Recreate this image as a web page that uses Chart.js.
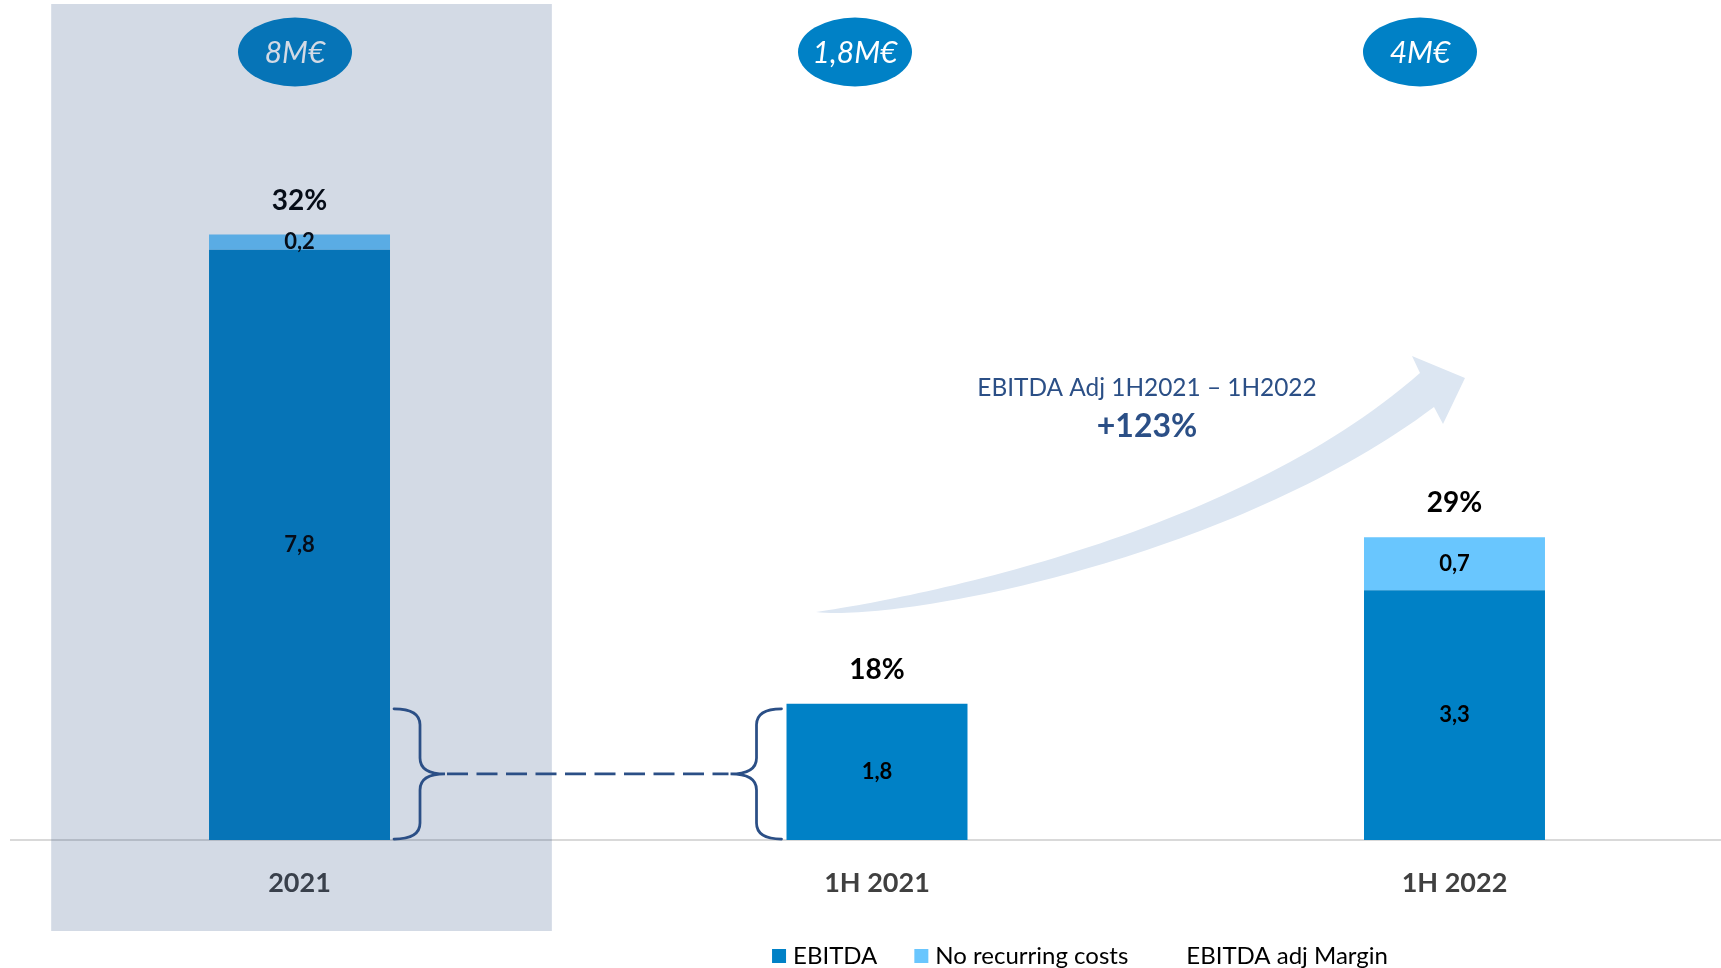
<!DOCTYPE html>
<html lang="es">
<head>
<meta charset="UTF-8">
<title>EBITDA</title>
<script src="https://cdn.jsdelivr.net/npm/chart.js@4.4.1/dist/chart.umd.min.js"></script>
<style>
  html, body { margin: 0; padding: 0; background: #ffffff; overflow: hidden; }
  #contenedor { width: 1721px; height: 968px; position: relative; }
</style>
</head>
<body>
<div id="contenedor"><canvas id="grafico"></canvas></div>
<script>
// Datos del gráfico (millones de euros)
const categorias = ['2021', '1H 2021', '1H 2022'];
const ebitda = [7.8, 1.8, 3.3];
const costesNoRecurrentes = [0.2, 0, 0.7];
const margenAjustado = [32, 18, 29];   // EBITDA adj Margin (%)
const tituloCrecimiento = 'EBITDA Adj 1H2021 – 1H2022';
const crecimiento = '+123%';

// Estilos
const FUENTE = 'Lato, "Open Sans", sans-serif';
const AZUL = '#0081c6';
const CELESTE = '#69c6fe';
const AZUL_OSCURO = '#2b4f86';
const desplazamientoBurbuja = [-4.5, -22, -34.5];  // px respecto al centro de la barra

function formatoNumero(v) {
    return v.toFixed(1).replace('.', ',');
}

function formatoTotal(v) {
    return (Math.round(v * 10) / 10).toString().replace('.', ',') + 'M€';
}

// Dibuja una llave "}" o "{" entre dos alturas
function dibujarLlave(ctx, xBorde, xVertical, xPunta, yArriba, yAbajo) {
    const yMedio = (yArriba + yAbajo) / 2;
    const r = 16;
    ctx.beginPath();
    ctx.moveTo(xBorde, yArriba);
    ctx.quadraticCurveTo(xVertical, yArriba, xVertical, yArriba + r);
    ctx.lineTo(xVertical, yMedio - r);
    ctx.quadraticCurveTo(xVertical, yMedio, xPunta, yMedio);
    ctx.quadraticCurveTo(xVertical, yMedio, xVertical, yMedio + r);
    ctx.lineTo(xVertical, yAbajo - r);
    ctx.quadraticCurveTo(xVertical, yAbajo, xBorde, yAbajo);
    ctx.stroke();
}

// Flecha curva de crecimiento
function dibujarFlecha(ctx) {
    ctx.save();
    ctx.fillStyle = '#dce6f2';
    ctx.beginPath();
    ctx.moveTo(816, 612);
    ctx.bezierCurveTo(900, 600, 1230, 540, 1420, 373);
    ctx.lineTo(1412, 356);
    ctx.lineTo(1465, 378);
    ctx.lineTo(1443, 424);
    ctx.lineTo(1434, 407);
    ctx.bezierCurveTo(1230, 560, 900, 622, 816, 612);
    ctx.closePath();
    ctx.fill();
    ctx.restore();
}

const decoraciones = {
    id: 'decoraciones',
    beforeDraw(chart) {
        const ctx = chart.ctx;
        ctx.save();
        ctx.fillStyle = '#ffffff';
        ctx.fillRect(0, 0, chart.width, chart.height);
        ctx.restore();
    },
    afterDatasetsDraw(chart) {
        const ctx = chart.ctx;
        const x = chart.scales.x;
        const y = chart.scales.y;
        const barrasEbitda = chart.getDatasetMeta(0).data;
        const barrasCostes = chart.getDatasetMeta(1).data;

        dibujarFlecha(ctx);

        ctx.save();
        ctx.textAlign = 'center';
        ctx.textBaseline = 'middle';

        // Etiquetas de cada segmento
        ctx.fillStyle = '#000000';
        ctx.font = 'bold 22px ' + FUENTE;
        [barrasEbitda, barrasCostes].forEach((barras, d) => {
            const valores = d === 0 ? ebitda : costesNoRecurrentes;
            barras.forEach((barra, i) => {
                if (!valores[i]) return;
                ctx.fillText(formatoNumero(valores[i]), barra.x, (barra.y + barra.base) / 2);
            });
        });

        // Margen encima de cada barra
        ctx.font = 'bold 28px ' + FUENTE;
        categorias.forEach((c, i) => {
            const total = ebitda[i] + costesNoRecurrentes[i];
            ctx.fillText(margenAjustado[i] + '%', barrasEbitda[i].x, y.getPixelForValue(total) - 34);
        });

        // Burbujas con el total
        categorias.forEach((c, i) => {
            const cx = barrasEbitda[i].x + desplazamientoBurbuja[i];
            const cy = 52;
            ctx.fillStyle = AZUL;
            ctx.beginPath();
            ctx.ellipse(cx, cy, 57, 34.5, 0, 0, Math.PI * 2);
            ctx.fill();
            ctx.fillStyle = '#ffffff';
            ctx.font = 'italic 30px ' + FUENTE;
            ctx.fillText(formatoTotal(ebitda[i] + costesNoRecurrentes[i]), cx, cy + 1);
        });
        ctx.restore();

        // Panel sombreado del año completo
        ctx.save();
        ctx.fillStyle = 'rgba(31, 68, 121, 0.196)';
        const xIzq = x.getPixelForValue(-0.43);
        const xDer = x.getPixelForValue(0.437);
        ctx.fillRect(xIzq, 4, xDer - xIzq, 927);
        ctx.restore();

        // Llaves y línea discontinua que comparan 1H 2021 con 2021
        ctx.save();
        ctx.strokeStyle = AZUL_OSCURO;
        ctx.lineWidth = 2.75;
        ctx.lineCap = 'round';
        const yArriba = y.getPixelForValue(ebitda[1]) + 5;
        const yAbajo = y.getPixelForValue(0) - 1;
        const yMedio = (yArriba + yAbajo) / 2;
        const bordeDer2021 = barrasEbitda[0].x + barrasEbitda[0].width / 2;
        const bordeIzq1H = barrasEbitda[1].x - barrasEbitda[1].width / 2;
        dibujarLlave(ctx, bordeDer2021 + 4, bordeDer2021 + 30, bordeDer2021 + 55, yArriba, yAbajo);
        dibujarLlave(ctx, bordeIzq1H - 5, bordeIzq1H - 30, bordeIzq1H - 56, yArriba, yAbajo);
        ctx.lineCap = 'butt';
        ctx.setLineDash([21, 8.5]);
        ctx.beginPath();
        ctx.moveTo(bordeDer2021 + 57, yMedio);
        ctx.lineTo(bordeIzq1H - 58, yMedio);
        ctx.stroke();
        ctx.restore();

        // Texto del crecimiento
        ctx.save();
        ctx.textAlign = 'center';
        ctx.textBaseline = 'middle';
        ctx.fillStyle = AZUL_OSCURO;
        ctx.font = '24.4px ' + FUENTE;
        ctx.fillText(tituloCrecimiento, 1147, 388);
        ctx.font = 'bold 32px ' + FUENTE;
        ctx.fillText(crecimiento, 1147, 427);
        ctx.restore();
    },
    afterDraw(chart) {
        // Leyenda inferior
        const ctx = chart.ctx;
        const items = chart.data.datasets.map(d => ({
            texto: d.label,
            color: d.type === 'line' ? null : d.backgroundColor
        }));
        const caja = 14, sep = 7, hueco = 37, yLeyenda = 956;
        ctx.save();
        ctx.font = '24px ' + FUENTE;
        ctx.textBaseline = 'middle';
        ctx.textAlign = 'left';
        let ancho = 0;
        items.forEach((it, i) => {
            ancho += caja + sep + ctx.measureText(it.texto).width + (i < items.length - 1 ? hueco : 0);
        });
        let xl = 1080 - ancho / 2;
        items.forEach(it => {
            if (it.color) {
                ctx.fillStyle = it.color;
                ctx.fillRect(xl, yLeyenda - caja / 2, caja, caja);
            }
            xl += caja + sep;
            ctx.fillStyle = '#000000';
            ctx.fillText(it.texto, xl, yLeyenda);
            xl += ctx.measureText(it.texto).width + hueco;
        });
        ctx.restore();
    }
};

const ctxGrafico = document.getElementById('grafico').getContext('2d');
const grafico = new Chart(ctxGrafico, {
    type: 'bar',
    data: {
        datasets: [
            {
                label: 'EBITDA',
                data: categorias.map((c, i) => ({ x: i, y: ebitda[i] })),
                backgroundColor: AZUL,
                stack: 'total',
                barPercentage: 1,
                categoryPercentage: 0.3134
            },
            {
                label: 'No recurring costs',
                data: categorias.map((c, i) => ({ x: i, y: costesNoRecurrentes[i] })),
                backgroundColor: CELESTE,
                stack: 'total',
                barPercentage: 1,
                categoryPercentage: 0.3134
            },
            {
                type: 'line',
                label: 'EBITDA adj Margin',
                data: categorias.map((c, i) => ({ x: i, y: margenAjustado[i] })),
                yAxisID: 'yMargen',
                showLine: false,
                pointRadius: 0,
                backgroundColor: 'rgba(0,0,0,0)',
                borderColor: 'rgba(0,0,0,0)'
            }
        ]
    },
    options: {
        responsive: true,
        maintainAspectRatio: false,
        animation: false,
        events: [],
        layout: { padding: { left: 11, top: 0, right: 0, bottom: 0 } },
        plugins: {
            legend: { display: false },
            tooltip: { enabled: false }
        },
        scales: {
            x: {
                type: 'linear',
                stacked: true,
                offset: false,
                min: -0.4996,
                max: 2.4615,
                afterBuildTicks: s => { s.ticks = categorias.map((c, i) => ({ value: i })); },
                afterFit: s => { s.height = 128; },
                grid: { display: false, drawTicks: false, offset: false },
                border: { display: true, color: '#d9d9d9', width: 2 },
                ticks: {
                    autoSkip: false,
                    maxRotation: 0,
                    padding: 27,
                    color: '#404040',
                    font: { family: FUENTE, size: 27, weight: 'bold' },
                    callback: v => categorias[v]
                }
            },
            y: {
                display: false,
                stacked: true,
                min: 0,
                max: 11.1
            },
            yMargen: {
                display: false,
                min: 0,
                max: 100
            }
        }
    },
    plugins: [decoraciones]
});
</script>
</body>
</html>
